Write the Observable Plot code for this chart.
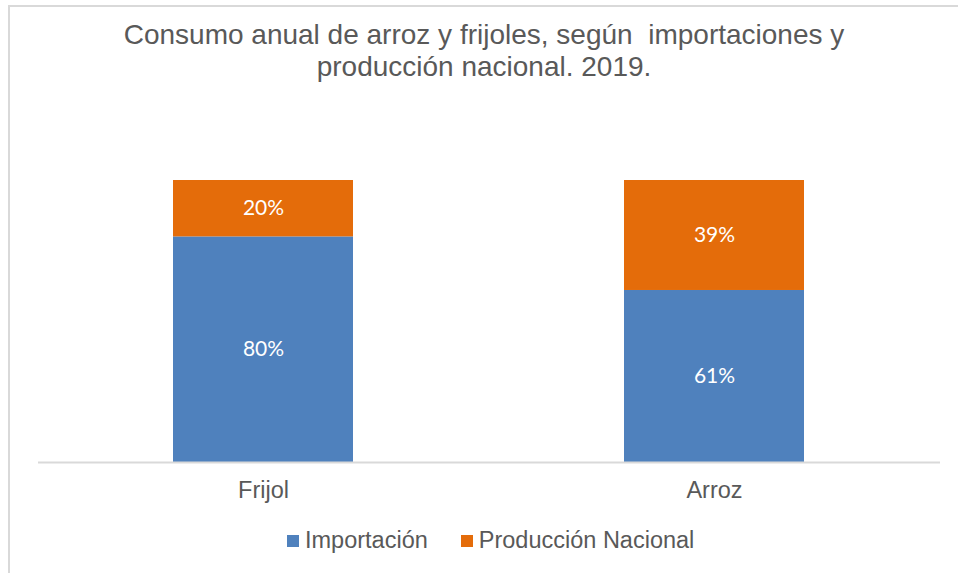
<!DOCTYPE html>
<html>
<head>
<meta charset="utf-8">
<script src="https://cdn.jsdelivr.net/npm/d3@7"></script>
<script src="https://cdn.jsdelivr.net/npm/@observablehq/plot@0.6"></script>
<style>
  html, body { margin: 0; padding: 0; background: #fff; }
  #wrap { position: relative; width: 958px; height: 573px; overflow: hidden; font-family: "Liberation Sans", Arial, sans-serif; color: #595959; }
  #frame { position: absolute; left: 8px; top: 5px; width: 960px; height: 580px; border-left: 2px solid #d9d9d9; border-top: 2px solid #d9d9d9; }
  #title { position: absolute; left: 10px; top: 19px; width: 948px; text-align: center; font-size: 28px; line-height: 32px; }
  #chart { position: absolute; left: 0; top: 100px; }
  #legend { position: absolute; left: 287px; top: 527px; display: flex; align-items: center; font-size: 23.5px; white-space: nowrap; }
  .sw { display: inline-block; width: 12px; height: 12px; margin-right: 6px; }
  .item { display: flex; align-items: center; margin-right: 33px; }
</style>
</head>
<body>
<div id="wrap">
  <div id="frame"></div>
  <div id="title">Consumo anual de arroz y frijoles, según&nbsp; importaciones y<br>producción nacional. 2019.</div>
  <div id="chart"></div>
  <div id="legend"></div>
</div>
<script>
const categories = ["Frijol", "Arroz"];
const seriesNames = ["Importación", "Producción Nacional"];
const importacion = [0.80, 0.61];
const produccion = [0.20, 0.39];
const colors = ["#4f81bd", "#e46c0a"];

const data = [];
categories.forEach((c, i) => {
  data.push({category: c, series: seriesNames[0], value: importacion[i]});
  data.push({category: c, series: seriesNames[1], value: produccion[i]});
});

const chart = Plot.plot({
  width: 958,
  height: 410,
  marginLeft: 38,
  marginRight: 18,
  marginTop: 80,
  marginBottom: 48,
  style: {fontFamily: "Liberation Sans, Arial, sans-serif", color: "#595959", background: "transparent"},
  x: {domain: categories, paddingInner: 0.6, paddingOuter: 0.3, label: null, tickSize: 0, tickPadding: 19},
  y: {domain: [0, 1], axis: null},
  color: {domain: seriesNames, range: colors},
  marks: [
    Plot.barY(data, {x: "category", y: "value", fill: "series", order: seriesNames}),
    Plot.ruleY([0], {stroke: "#d9d9d9", strokeWidth: 2}),
    Plot.text(data, Plot.stackY({x: "category", y: "value", z: "series", order: seriesNames,
      text: d => Math.round(d.value * 100) + "%", fill: "white", fontSize: 21, fontFamily: "Lato, Carlito, sans-serif"})),
    Plot.axisX({tickSize: 0, tickPadding: 19, fontSize: 23.5, label: null, fill: "#595959"})
  ]
});
document.getElementById("chart").appendChild(chart);

const legend = document.getElementById("legend");
seriesNames.forEach((s, i) => {
  const item = document.createElement("div");
  item.className = "item";
  const sw = document.createElement("span");
  sw.className = "sw";
  sw.style.background = colors[i];
  item.appendChild(sw);
  item.appendChild(document.createTextNode(s));
  legend.appendChild(item);
});
</script>
</body>
</html>
